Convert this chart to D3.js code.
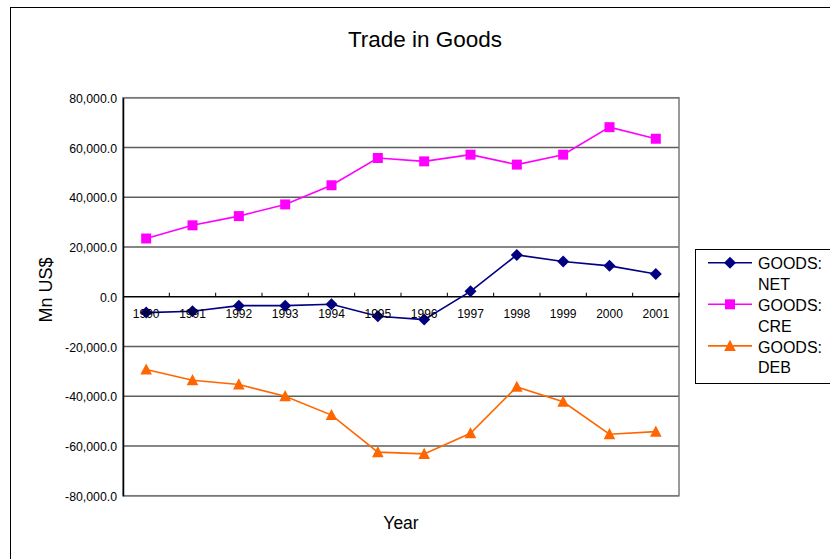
<!DOCTYPE html>
<html>
<head>
<meta charset="utf-8">
<script src="https://cdn.jsdelivr.net/npm/d3@7"></script>
<style>
  body { margin: 0; background: #fff; }
  svg { display: block; font-family: "Liberation Sans", Arial, sans-serif; }
</style>
</head>
<body>
<div id="chart"></div>
<script>
// data (Mn US$)
var years = ["1990", "1991", "1992", "1993", "1994", "1995", "1996", "1997", "1998", "1999", "2000", "2001"];
var goodsNet = [-6400, -5850, -3600, -3600, -3050, -7850, -9200, 2150, 16800, 14150, 12400, 9100];
var goodsCre = [23400, 28700, 32400, 37100, 44800, 55750, 54400, 57100, 53100, 57100, 68150, 63500];
var goodsDeb = [-29300, -33600, -35300, -40000, -47600, -62500, -63200, -54900, -36250, -42250, -55300, -54250];
var yTicks = [-80000, -60000, -40000, -20000, 0, 20000, 40000, 60000, 80000];

var series = [
  { name: ["GOODS:", "NET"], values: goodsNet, color: "#000080", marker: "diamond" },
  { name: ["GOODS:", "CRE"], values: goodsCre, color: "#FF00FF", marker: "square" },
  { name: ["GOODS:", "DEB"], values: goodsDeb, color: "#FF6600", marker: "triangle" }
];

var width = 830, height = 559;
var plot = { left: 123, right: 679, top: 97.7, bottom: 495.7 };

var svg = d3.select("#chart").append("svg")
  .attr("width", width)
  .attr("height", height);

// chart frame (runs off the right and bottom edges)
svg.append("rect")
  .attr("x", 10.5).attr("y", 7.5)
  .attr("width", 900).attr("height", 700)
  .attr("fill", "none").attr("stroke", "#000").attr("stroke-width", 1);

var x = d3.scaleBand().domain(years).range([plot.left, plot.right]).padding(0);
var y = d3.scaleLinear().domain([-80000, 80000]).range([plot.bottom, plot.top]);
var cx = function(d) { return x(d) + x.bandwidth() / 2; };

function markerPath(type) {
  if (type === "diamond") return "M0,-6L6,0L0,6L-6,0Z";
  if (type === "square") return "M-5,-5H5V5H-5Z";
  return "M0,-6.2L5.8,5H-5.8Z";
}

// gridlines
svg.append("g")
  .selectAll("line")
  .data(yTicks)
  .enter()
  .append("line")
    .attr("x1", plot.left).attr("x2", plot.right)
    .attr("y1", function(d) { return y(d); })
    .attr("y2", function(d) { return y(d); })
    .attr("stroke", "#5e5e5e").attr("stroke-width", 1.5);

// plot border
svg.append("rect")
  .attr("x", plot.left).attr("y", plot.top)
  .attr("width", plot.right - plot.left).attr("height", plot.bottom - plot.top)
  .attr("fill", "none").attr("stroke", "#7a7a7a").attr("stroke-width", 1.5);

// y axis
var yAxis = svg.append("g")
  .attr("transform", "translate(" + plot.left + ",0)")
  .call(d3.axisLeft(y).tickValues(yTicks).tickSize(0).tickPadding(6)
    .tickFormat(function(d) { return d3.format(",.1f")(d).replace("−", "-"); }));
yAxis.select(".domain").attr("stroke", "#000").attr("stroke-width", 1.5);
yAxis.selectAll("text")
  .attr("font-size", "12.3px")
  .attr("fill", "#000")
  .attr("dy", "0.38em");

// x axis sitting on zero, ticks between categories pointing up
var zeroY = y(0);
var xAxis = svg.append("g").attr("transform", "translate(0," + zeroY + ")");
xAxis.append("line")
  .attr("x1", plot.left).attr("x2", plot.right)
  .attr("stroke", "#000").attr("stroke-width", 1.2);
xAxis.selectAll("line.tick")
  .data(years.slice(1))
  .enter()
  .append("line")
    .attr("class", "tick")
    .attr("x1", function(d) { return x(d); })
    .attr("x2", function(d) { return x(d); })
    .attr("y1", 0).attr("y2", -4)
    .attr("stroke", "#000");
xAxis.append("line")
  .attr("x1", plot.right).attr("x2", plot.right)
  .attr("y1", 0).attr("y2", -4).attr("stroke", "#000");

// series lines and markers
var line = d3.line()
  .x(function(d, i) { return cx(years[i]); })
  .y(function(d) { return y(d); });

series.forEach(function(s) {
  svg.append("path")
    .datum(s.values)
    .attr("d", line)
    .attr("fill", "none")
    .attr("stroke", s.color)
    .attr("stroke-width", 1.6);

  svg.append("g")
    .selectAll("path")
    .data(s.values)
    .enter()
    .append("path")
      .attr("d", markerPath(s.marker))
      .attr("transform", function(d, i) { return "translate(" + cx(years[i]) + "," + y(d) + ")"; })
      .attr("fill", s.color);
});

// category labels drawn over the lines
svg.append("g")
  .selectAll("text")
  .data(years)
  .enter()
  .append("text")
    .attr("x", cx)
    .attr("y", zeroY + 21.5)
    .attr("text-anchor", "middle")
    .attr("font-size", "12px")
    .attr("fill", "#000")
    .text(function(d) { return d; });

// titles
svg.append("text")
  .attr("x", 425).attr("y", 46.5)
  .attr("text-anchor", "middle")
  .attr("font-size", "22.5px")
  .text("Trade in Goods");

svg.append("text")
  .attr("x", (plot.left + plot.right) / 2).attr("y", 529)
  .attr("text-anchor", "middle")
  .attr("font-size", "17.5px")
  .text("Year");

svg.append("text")
  .attr("transform", "translate(52,290) rotate(-90)")
  .attr("text-anchor", "middle")
  .attr("font-size", "18px")
  .text("Mn US$");

// legend
var legend = svg.append("g");
legend.append("rect")
  .attr("x", 695.5).attr("y", 249.5)
  .attr("width", 200).attr("height", 134)
  .attr("fill", "#fff").attr("stroke", "#000").attr("stroke-width", 1);

series.forEach(function(s, i) {
  var ly = 262.7 + i * 41.6;
  var g = legend.append("g").attr("transform", "translate(0," + ly + ")");
  g.append("line")
    .attr("x1", 708).attr("x2", 752)
    .attr("stroke", s.color).attr("stroke-width", 1.6);
  g.append("path")
    .attr("d", markerPath(s.marker))
    .attr("transform", "translate(730,0)")
    .attr("fill", s.color);
  g.selectAll("text")
    .data(s.name)
    .enter()
    .append("text")
      .attr("x", 758)
      .attr("y", function(d, j) { return 6.6 + j * 20.7; })
      .attr("font-size", "16px")
      .text(function(d) { return d; });
});
</script>
</body>
</html>
